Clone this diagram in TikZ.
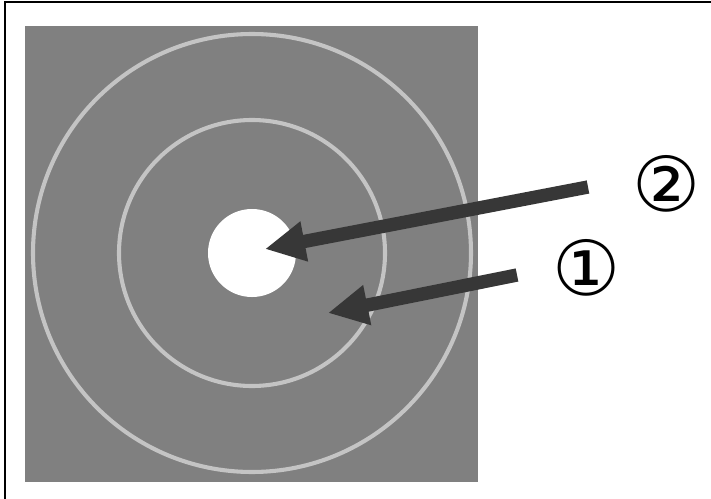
\documentclass[tikz,border=0pt]{standalone}
\usepackage{fontspec}
\newfontfamily\symfont{DejaVu Sans}
\usepackage{tikz}
\usetikzlibrary{arrows.meta}

\definecolor{plategray}{RGB}{128,128,128}
\definecolor{ringgray}{RGB}{196,196,196}
\definecolor{arrowgray}{RGB}{55,55,55}

\begin{document}
\begin{tikzpicture}[
    x=0.025cm, y=-0.025cm,
    ring/.style={draw=ringgray, line width=2.9pt},
    arrow/.style={-{Triangle[length=1cm, width=0.95cm]}, line width=9.5pt, draw=arrowgray},
    numlabel/.style={font=\symfont\fontsize{54}{54}\selectfont, inner sep=0pt}
]
    \useasboundingbox (0,0) rectangle (711,499);
    \draw[line width=1.8pt] (5,499) -- (5,2) -- (711,2);

    % plate with rings and hole
    \fill[plategray] (25,26) rectangle (478,482);
    \draw[ring] (252,253) circle[radius=219];
    \draw[ring] (252,253) circle[radius=133];
    \node[circle, fill=white, minimum size=2.2cm, inner sep=0pt] (hole) at (252,253) {};

    \node[numlabel] (two) at (667,184) {②};
    \node[numlabel] (one) at (587,268) {①};

    \coordinate (tailtwo) at (588,187);
    \coordinate (tiptwo) at (265,249);
    \coordinate (tailone) at (517,275);
    \coordinate (tipone) at (328,313);

    \draw[arrow] (tailtwo) -- (tiptwo);
    \draw[arrow] (tailone) -- (tipone);
\end{tikzpicture}
\end{document}
